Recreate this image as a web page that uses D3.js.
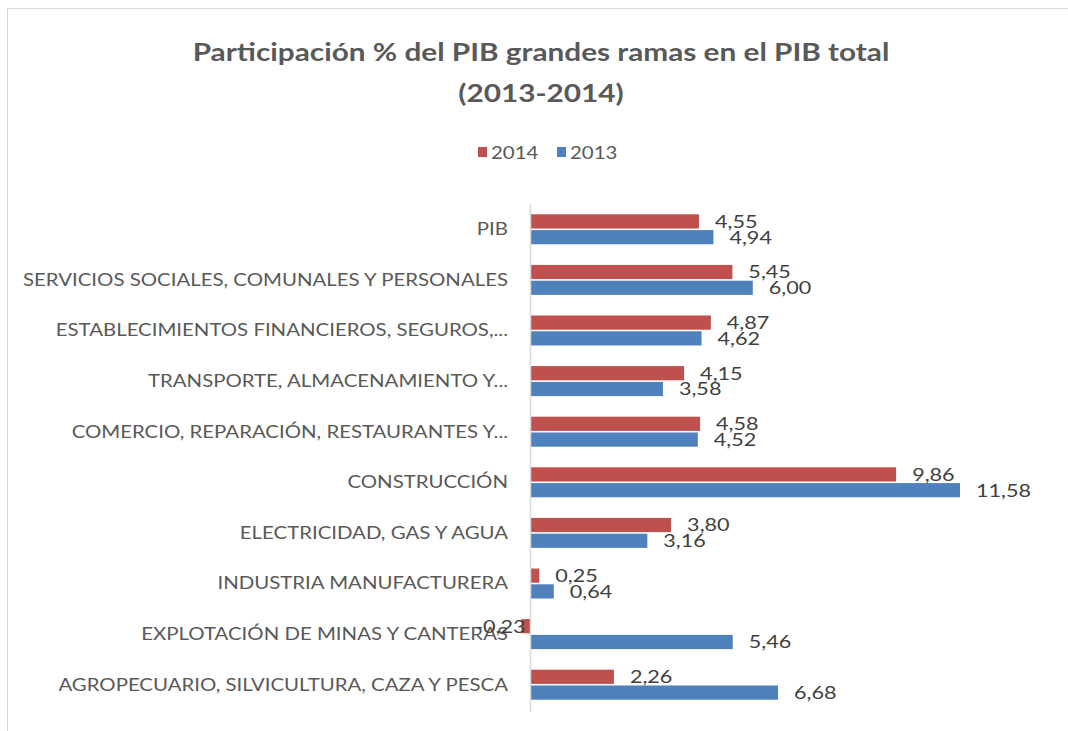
<!DOCTYPE html>
<html>
<head>
<meta charset="utf-8">
<script src="https://cdn.jsdelivr.net/npm/d3@7"></script>
<style>
  body { margin: 0; background: #fff; }
  svg { display: block; }
</style>
</head>
<body>
<svg id="chart" width="1068" height="731"></svg>
<script>
var categories = [
  "PIB",
  "SERVICIOS SOCIALES, COMUNALES Y PERSONALES",
  "ESTABLECIMIENTOS FINANCIEROS, SEGUROS,...",
  "TRANSPORTE, ALMACENAMIENTO Y...",
  "COMERCIO, REPARACIÓN, RESTAURANTES Y...",
  "CONSTRUCCIÓN",
  "ELECTRICIDAD, GAS Y AGUA",
  "INDUSTRIA MANUFACTURERA",
  "EXPLOTACIÓN DE MINAS Y CANTERAS",
  "AGROPECUARIO, SILVICULTURA, CAZA Y PESCA"
];
var values2014 = [4.55, 5.45, 4.87, 4.15, 4.58, 9.86, 3.80, 0.25, -0.23, 2.26];
var values2013 = [4.94, 6.00, 4.62, 3.58, 4.52, 11.58, 3.16, 0.64, 5.46, 6.68];
var seriesNames = ["2014", "2013"];
var colors = { "2014": "#c0504d", "2013": "#4f81bd" };

var svg = d3.select("#chart"),
    width = +svg.attr("width"),
    height = +svg.attr("height");

var font = "Lato, 'Open Sans', sans-serif";
var sx = 1.2; // the original text is drawn a bit wide

// frame
svg.append("path")
  .attr("d", "M7.5,731 L7.5,8.5 L1068,8.5")
  .attr("fill", "none")
  .attr("stroke", "#d9d9d9");

// title
["Participación % del PIB grandes ramas en el PIB total", "(2013-2014)"].forEach(function(t, i) {
  svg.append("text")
    .attr("transform", "translate(541," + (61 + i * 41) + ") scale(1.24,1)")
    .attr("text-anchor", "middle")
    .attr("font-family", font).attr("font-weight", "bold")
    .attr("font-size", 24).attr("fill", "#595959")
    .text(t);
});

// legend
var legend = svg.append("g");
var legendX = [478, 557];
seriesNames.forEach(function(s, i) {
  legend.append("rect")
    .attr("x", legendX[i]).attr("y", 147)
    .attr("width", 9).attr("height", 10)
    .attr("fill", colors[s]);
  legend.append("text")
    .attr("transform", "translate(" + (legendX[i] + 13) + ",159) scale(" + sx + ",1)")
    .attr("font-family", font).attr("font-size", 17)
    .attr("fill", "#595959")
    .text(s);
});

var x = d3.scaleLinear().domain([0, 11.58]).range([530, 960]);
var y = d3.scaleBand().domain(categories).range([204, 710]);
var sub = d3.scaleBand().domain(seriesNames).range([0, 30]).paddingInner(0.1);

var rows = categories.map(function(c, i) {
  return { cat: c, vals: [
    { s: "2014", v: values2014[i] },
    { s: "2013", v: values2013[i] }
  ]};
});

// category labels
svg.append("g").selectAll("text")
  .data(categories)
  .join("text")
  .attr("transform", function(d) {
    return "translate(508," + (y(d) + y.bandwidth() / 2) + ") scale(" + sx + ",1)";
  })
  .attr("dy", "0.35em")
  .attr("text-anchor", "end")
  .attr("font-family", font).attr("font-size", 17)
  .attr("fill", "#595959")
  .text(function(d) { return d; });

var groups = svg.append("g").selectAll("g")
  .data(rows)
  .join("g")
  .attr("transform", function(d) {
    return "translate(0," + (y(d.cat) + y.bandwidth() / 2 - 15) + ")";
  });

groups.selectAll("rect")
  .data(function(d) { return d.vals; })
  .join("rect")
  .attr("x", function(d) { return x(Math.min(0, d.v)); })
  .attr("y", function(d) { return sub(d.s); })
  .attr("width", function(d) { return Math.abs(x(d.v) - x(0)); })
  .attr("height", sub.bandwidth())
  .attr("fill", function(d) { return colors[d.s]; });

groups.selectAll("text")
  .data(function(d) { return d.vals; })
  .join("text")
  .attr("transform", function(d) {
    var tx = d.v < 0 ? x(d.v) + 4 : x(d.v) + 16;
    var ty = sub(d.s) + sub.bandwidth() / 2;
    return "translate(" + tx + "," + ty + ") scale(" + sx + ",1)";
  })
  .attr("dy", "0.35em")
  .attr("text-anchor", function(d) { return d.v < 0 ? "end" : "start"; })
  .attr("font-family", font).attr("font-size", 18)
  .attr("fill", "#404040")
  .text(function(d) { return d3.format(".2f")(d.v).replace(".", ",").replace("−", "-"); });

// axis line
svg.append("line")
  .attr("x1", x(0) + 0.5).attr("x2", x(0) + 0.5)
  .attr("y1", 204).attr("y2", 712)
  .attr("stroke", "#d9d9d9").attr("stroke-width", 1.5);
</script>
</body>
</html>
